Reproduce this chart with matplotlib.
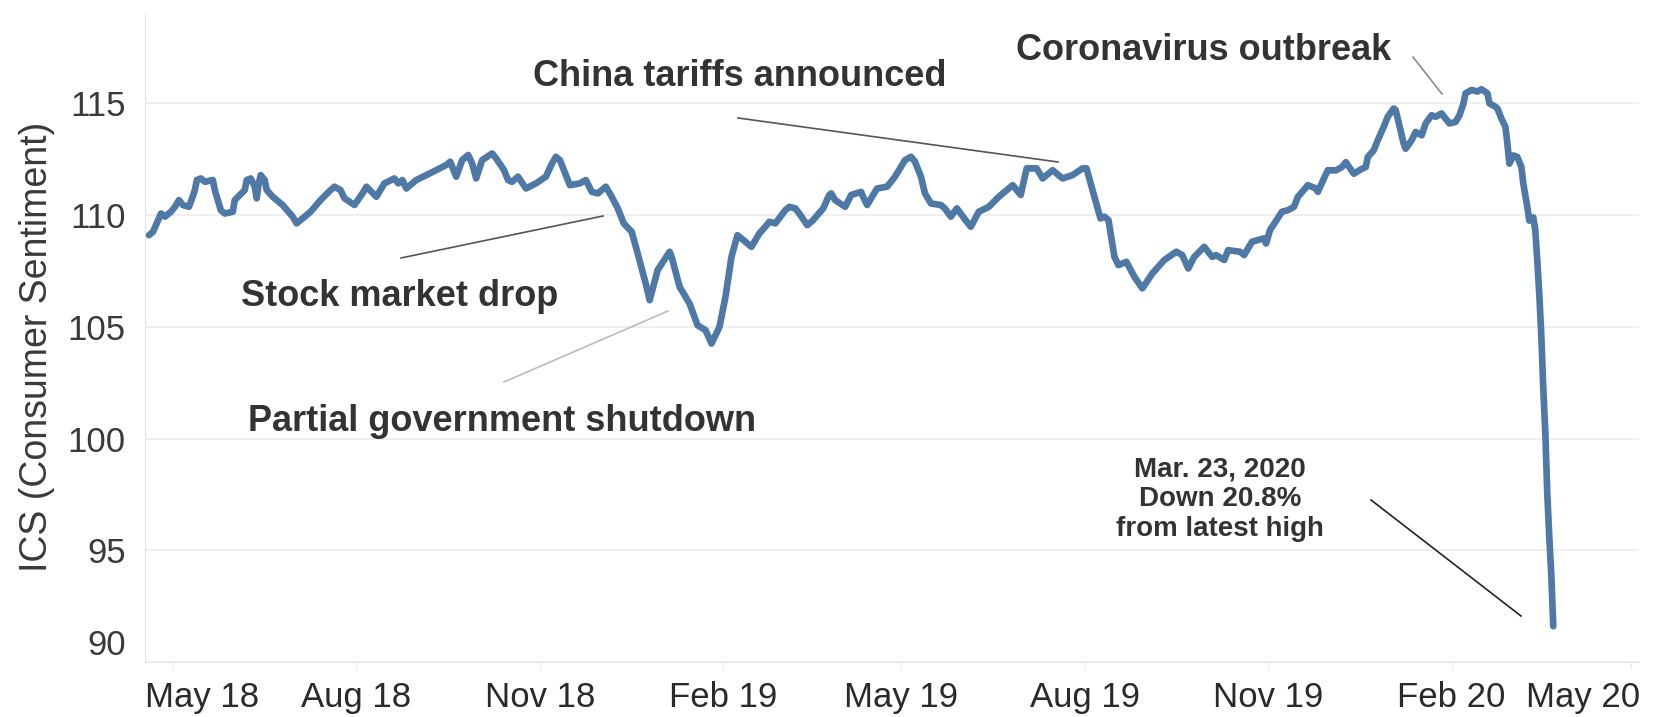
import matplotlib
matplotlib.use("Agg")
import matplotlib.pyplot as plt
from matplotlib.transforms import ScaledTranslation
import pandas as pd

# DATA ------------------------------------------------------
dates_2018 = ["2018-04-19", "2018-04-21", "2018-04-25", "2018-04-27", "2018-04-30",
              "2018-05-02", "2018-05-04", "2018-05-06", "2018-05-09", "2018-05-10",
              "2018-05-12", "2018-05-13", "2018-05-15", "2018-05-17", "2018-05-21",
              "2018-05-22", "2018-05-25", "2018-05-27", "2018-05-31", "2018-06-01",
              "2018-06-06", "2018-06-07", "2018-06-09", "2018-06-11", "2018-06-12",
              "2018-06-13", "2018-06-14", "2018-06-16", "2018-06-17", "2018-06-20",
              "2018-06-25", "2018-06-30", "2018-07-02", "2018-07-05", "2018-07-09",
              "2018-07-14", "2018-07-19", "2018-07-21", "2018-07-24", "2018-07-26",
              "2018-07-31", "2018-08-04", "2018-08-06", "2018-08-11", "2018-08-15",
              "2018-08-20", "2018-08-22", "2018-08-24", "2018-08-26", "2018-08-31",
              "2018-09-05", "2018-09-10", "2018-09-15", "2018-09-17", "2018-09-20",
              "2018-09-23", "2018-09-26", "2018-09-28", "2018-09-30", "2018-10-03",
              "2018-10-08", "2018-10-10", "2018-10-14", "2018-10-16", "2018-10-18",
              "2018-10-21", "2018-10-25", "2018-10-30", "2018-11-04", "2018-11-07",
              "2018-11-09", "2018-11-11", "2018-11-15", "2018-11-16", "2018-11-21",
              "2018-11-24", "2018-11-27", "2018-11-30", "2018-12-04", "2018-12-07",
              "2018-12-10", "2018-12-13", "2018-12-17", "2018-12-20", "2018-12-24",
              "2018-12-26", "2018-12-30"]
ics_2018 = [109.10, 109.25, 110.07, 109.93, 110.15,
            110.37, 110.67, 110.45, 110.37, 110.60,
            111.12, 111.57, 111.64, 111.49, 111.57,
            111.12, 110.22, 110.07, 110.15, 110.67,
            111.12, 111.57, 111.64, 111.27, 110.75,
            111.42, 111.79, 111.57, 111.12, 110.82,
            110.45, 109.93, 109.63, 109.85, 110.15,
            110.67, 111.12, 111.27, 111.12, 110.75,
            110.45, 110.97, 111.27, 110.82, 111.42,
            111.64, 111.42, 111.57, 111.19, 111.57,
            111.79, 112.01, 112.24, 112.39, 111.72,
            112.46, 112.69, 112.31, 111.64, 112.46,
            112.76, 112.54, 112.01, 111.57, 111.49,
            111.72, 111.19, 111.42, 111.72, 112.31,
            112.61, 112.46, 111.57, 111.34, 111.42,
            111.57, 111.04, 110.97, 111.27, 110.82,
            110.30, 109.63, 109.25, 108.28, 106.94,
            106.19, 107.54]

dates_2019 = ["2019-01-05", "2019-01-06", "2019-01-10", "2019-01-15", "2019-01-19",
              "2019-01-23", "2019-01-26", "2019-01-30", "2019-02-02", "2019-02-05",
              "2019-02-08", "2019-02-11", "2019-02-15", "2019-02-19", "2019-02-22",
              "2019-02-24", "2019-02-27", "2019-03-04", "2019-03-06", "2019-03-09",
              "2019-03-11", "2019-03-15", "2019-03-18", "2019-03-23", "2019-03-26",
              "2019-03-27", "2019-03-29", "2019-04-03", "2019-04-06", "2019-04-11",
              "2019-04-12", "2019-04-14", "2019-04-17", "2019-04-19", "2019-04-24",
              "2019-04-28", "2019-05-01", "2019-05-03", "2019-05-06", "2019-05-08",
              "2019-05-11", "2019-05-13", "2019-05-16", "2019-05-21", "2019-05-23",
              "2019-05-26", "2019-05-29", "2019-06-03", "2019-06-05", "2019-06-09",
              "2019-06-14", "2019-06-19", "2019-06-24", "2019-06-26", "2019-06-30",
              "2019-07-03", "2019-07-08", "2019-07-11", "2019-07-16", "2019-07-21",
              "2019-07-26", "2019-07-31", "2019-08-02", "2019-08-05", "2019-08-09",
              "2019-08-11", "2019-08-13", "2019-08-16", "2019-08-18", "2019-08-22",
              "2019-08-26", "2019-08-30", "2019-09-04", "2019-09-10", "2019-09-16",
              "2019-09-19", "2019-09-22", "2019-09-25", "2019-09-30", "2019-10-04",
              "2019-10-06", "2019-10-10", "2019-10-12", "2019-10-18", "2019-10-20",
              "2019-10-24", "2019-10-30", "2019-10-31", "2019-11-02", "2019-11-08",
              "2019-11-11", "2019-11-14", "2019-11-16", "2019-11-21", "2019-11-25",
              "2019-11-26", "2019-11-29", "2019-12-01", "2019-12-05", "2019-12-08",
              "2019-12-10", "2019-12-14", "2019-12-18", "2019-12-20", "2019-12-21",
              "2019-12-24", "2019-12-26", "2019-12-29", "2019-12-31"]
ics_2019 = [108.36, 108.13, 106.79, 106.04, 105.07,
            104.85, 104.25, 105.00, 106.34, 108.13,
            109.10, 108.88, 108.58, 109.18, 109.48,
            109.70, 109.63, 110.22, 110.37, 110.30,
            110.07, 109.55, 109.78, 110.30, 110.90,
            110.97, 110.67, 110.37, 110.90, 111.04,
            110.82, 110.45, 110.90, 111.19, 111.27,
            111.72, 112.16, 112.46, 112.61, 112.39,
            111.72, 110.97, 110.52, 110.45, 110.30,
            109.93, 110.30, 109.70, 109.48, 110.15,
            110.37, 110.82, 111.19, 111.34, 110.90,
            112.09, 112.09, 111.64, 112.01, 111.64,
            111.79, 112.09, 112.09, 111.12, 109.85,
            109.93, 109.78, 108.13, 107.76, 107.91,
            107.24, 106.72, 107.39, 107.99, 108.36,
            108.21, 107.61, 108.13, 108.58, 108.13,
            108.21, 107.99, 108.43, 108.36, 108.21,
            108.81, 108.96, 108.73, 109.33, 110.15,
            110.22, 110.37, 110.82, 111.34, 111.19,
            111.04, 111.64, 112.01, 112.00, 112.15,
            112.37, 111.85, 112.07, 112.15, 112.60,
            112.90, 113.35, 113.95, 114.40]

dates_2020 = ["2020-01-03", "2020-01-04", "2020-01-06", "2020-01-08", "2020-01-09",
              "2020-01-12", "2020-01-14", "2020-01-17", "2020-01-19", "2020-01-22",
              "2020-01-24", "2020-01-27", "2020-01-29", "2020-01-31", "2020-02-03",
              "2020-02-05", "2020-02-07", "2020-02-08", "2020-02-11", "2020-02-14",
              "2020-02-16", "2020-02-19", "2020-02-20", "2020-02-23", "2020-02-24",
              "2020-02-26", "2020-02-28", "2020-02-29", "2020-03-01", "2020-03-03",
              "2020-03-05", "2020-03-07", "2020-03-08", "2020-03-10", "2020-03-11",
              "2020-03-13", "2020-03-14", "2020-03-15", "2020-03-16", "2020-03-17",
              "2020-03-18", "2020-03-19", "2020-03-20", "2020-03-21", "2020-03-22",
              "2020-03-23"]
ics_2020 = [114.77, 114.70, 113.95, 113.20, 112.97,
            113.35, 113.72, 113.57, 114.10, 114.47,
            114.40, 114.55, 114.32, 114.10, 114.17,
            114.47, 115.00, 115.45, 115.60, 115.53,
            115.63, 115.45, 115.00, 114.85, 114.77,
            114.32, 113.95, 113.20, 112.30, 112.67,
            112.60, 112.15, 111.40, 110.35, 109.75,
            109.90, 109.30, 107.94, 106.44, 104.60,
            102.20, 100.30, 97.50, 95.60, 93.90,
            91.60]

tick_dates = ["2018-05-01", "2018-08-01", "2018-11-01", "2019-02-01", "2019-05-01",
              "2019-08-01", "2019-11-01", "2020-02-01", "2020-05-01"]
tick_labels = ["May 18", "Aug 18", "Nov 18", "Feb 19", "May 19",
               "Aug 19", "Nov 19", "Feb 20", "May 20"]
y_ticks = [90, 95, 100, 105, 110, 115]

dates = pd.to_datetime(dates_2018 + dates_2019 + dates_2020)
ics = ics_2018 + ics_2019 + ics_2020

# Graph -----------------------------------------------------
plt.rcParams['font.family'] = ['Liberation Sans', 'DejaVu Sans']

fig = plt.figure(figsize=(16.63, 7.17), dpi=100)
ax = fig.add_axes([0.0872, 0.0767, 0.8984, 0.9038])

ax.plot(dates, ics, color="#4e79a7", lw=4.8, solid_joinstyle="round", solid_capstyle="round", zorder=3)

ax.set_xlim(pd.Timestamp("2018-04-17"), pd.Timestamp("2020-05-05"))
ax.set_ylim(90, 119)

ax.set_yticks(y_ticks)
ax.grid(axis="y", color="#ececec", lw=1.2)
ax.set_axisbelow(True)
for s in ["top", "right"]:
    ax.spines[s].set_visible(False)
ax.spines["left"].set_color("#e4e4e4")
ax.spines["bottom"].set_color("#e4e4e4")

ax.tick_params(axis="y", length=0, pad=14, labelsize=25, labelcolor="#3a3a3a")
ax.get_yticklabels()[0].set_va("bottom")

ax.set_xticks(pd.to_datetime(tick_dates))
ax.set_xticklabels(tick_labels)
ax.tick_params(axis="x", length=5, color="#ececec", pad=9, labelsize=25, labelcolor="#2a2a2a")
xl = ax.get_xticklabels()
xl[0].set_ha("left")
xl[0].set_transform(xl[0].get_transform() + ScaledTranslation(-0.28, 0, fig.dpi_scale_trans))
xl[-1].set_ha("right")
xl[-1].set_transform(xl[-1].get_transform() + ScaledTranslation(0.09, 0, fig.dpi_scale_trans))

ax.set_ylabel("ICS (Consumer Sentiment)", fontsize=27, color="#3a3a3a")
ax.yaxis.set_label_coords(-0.06, 0.486)

# Annotations
txt = dict(transform=ax.transAxes, fontsize=26, fontweight="bold", color="#333333",
           ha="center", va="center")
ax.text(0.7088, 0.9429, "Coronavirus outbreak", **txt)
ax.text(0.3983, 0.9028, "China tariffs announced", **txt)
ax.text(0.1707, 0.5633, "Stock market drop", **txt)
ax.text(0.2390, 0.3704, "Partial government shutdown", **txt)
ax.text(0.7195, 0.2515, "Mar. 23, 2020\nDown 20.8%\nfrom latest high", transform=ax.transAxes,
        fontsize=20, fontweight="bold", color="#333333", ha="center", va="center", linespacing=1.2)

ax.plot([0.8487, 0.8681], [0.9336, 0.8765], transform=ax.transAxes, color="#8a8a8a", lw=1.2)
ax.plot([0.3969, 0.6111], [0.8395, 0.7716], transform=ax.transAxes, color="#555555", lw=1.2)
ax.plot([0.1714, 0.3066], [0.6235, 0.6883], transform=ax.transAxes, color="#555555", lw=1.2)
ax.plot([0.2403, 0.3501], [0.4321, 0.5417], transform=ax.transAxes, color="#bbbbbb", lw=1.2)
ax.plot([0.8206, 0.9210], [0.2500, 0.0710], transform=ax.transAxes, color="#222222", lw=1.2)

fig.savefig("out.png", dpi=100)
